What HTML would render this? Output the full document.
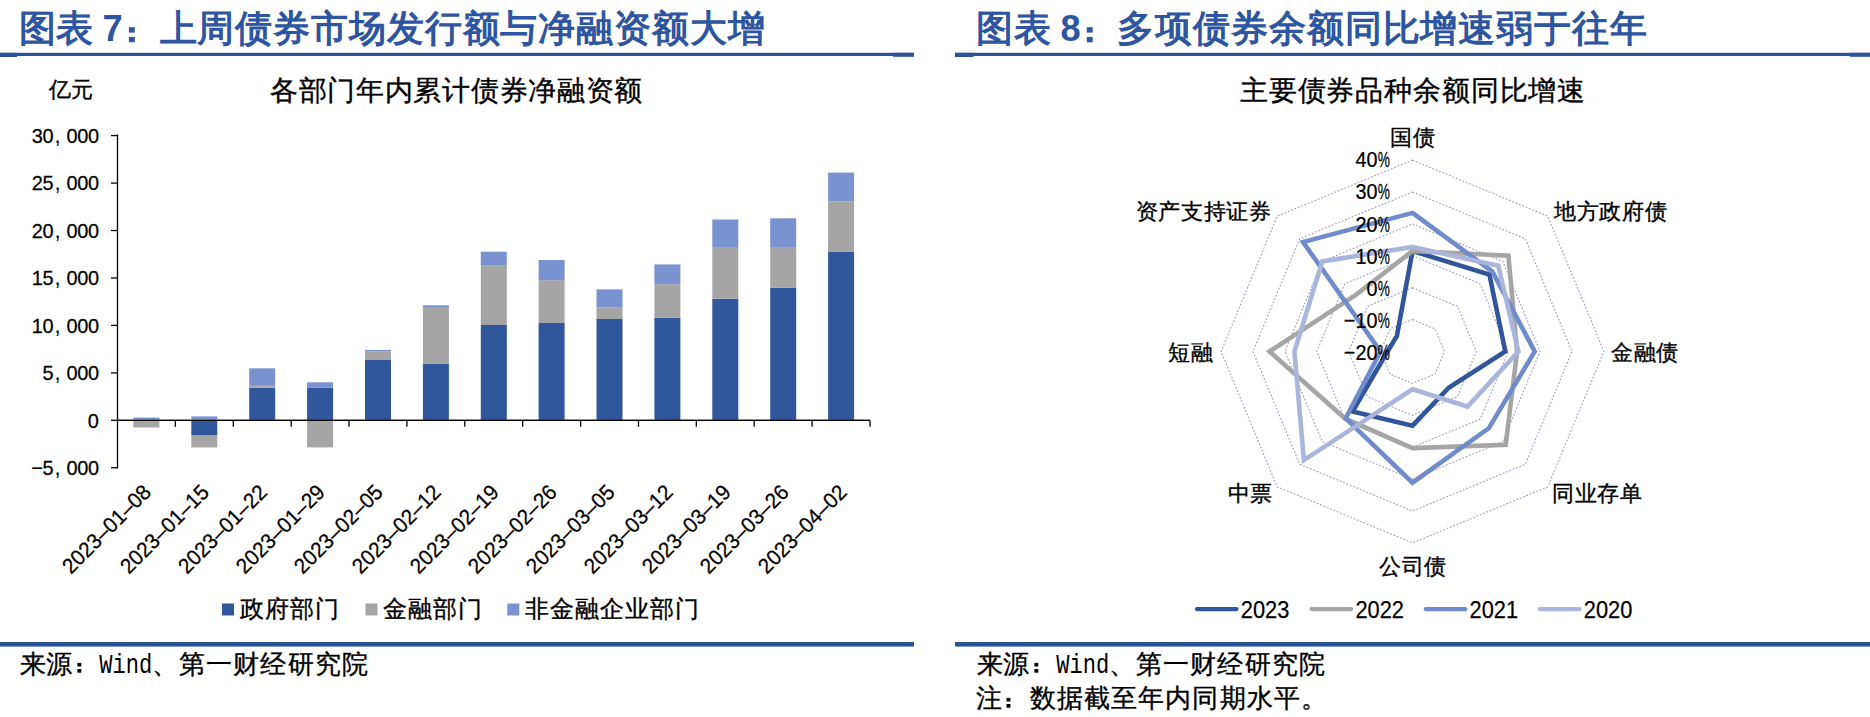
<!DOCTYPE html><html><head><meta charset="utf-8"><style>
html,body{margin:0;padding:0;background:#fff;}
body{width:1870px;height:717px;overflow:hidden;position:relative;font-family:"Liberation Sans",sans-serif;}
svg{position:absolute;left:0;top:0;}
text{font-family:"Liberation Sans",sans-serif;}
.k{stroke:#000;stroke-width:0.35px;}
.d{stroke:#000;stroke-width:0.25px;}
</style></head><body>
<svg width="1870" height="717" viewBox="0 0 1870 717">

<rect x="0" y="52.8" width="914" height="3.2" fill="#2b5397"/>
<rect x="0" y="52.8" width="17" height="4.2" fill="#2b5397"/>
<rect x="893" y="52.8" width="21" height="4.0" fill="#2b5397"/>
<rect x="955" y="52.8" width="915" height="3.2" fill="#2b5397"/>
<rect x="955" y="52.8" width="18.5" height="4.2" fill="#2b5397"/>
<rect x="1850" y="52.8" width="20" height="4.0" fill="#2b5397"/>
<rect x="0" y="642" width="914" height="4.6" fill="#2b5397"/>
<rect x="955" y="642" width="915" height="4.6" fill="#2b5397"/>
<text x="18.5" y="40.8" font-size="37" font-weight="bold" fill="#2e559f" letter-spacing="0.6">图表</text>
<text x="102.5" y="40.9" font-size="36.2" font-weight="bold" fill="#2e559f">7</text>
<rect x="128.9" y="27.2" width="5.9" height="5.4" fill="#2e559f"/>
<rect x="128.9" y="36.9" width="5.9" height="5.4" fill="#2e559f"/>
<text x="159.5" y="40.8" font-size="37" font-weight="bold" fill="#2e559f" letter-spacing="0.88">上周债券市场发行额与净融资额大增</text>
<text x="976.4" y="40.8" font-size="37" font-weight="bold" fill="#2e559f" letter-spacing="0.6">图表</text>
<text x="1060.4" y="40.9" font-size="36.2" font-weight="bold" fill="#2e559f">8</text>
<rect x="1086.8" y="27.2" width="5.9" height="5.4" fill="#2e559f"/>
<rect x="1086.8" y="36.9" width="5.9" height="5.4" fill="#2e559f"/>
<text x="1117.4" y="40.8" font-size="37" font-weight="bold" fill="#2e559f" letter-spacing="0.88">多项债券余额同比增速弱于往年</text>
<text class="k" x="269.8" y="100.3" font-size="28" fill="#000" letter-spacing="0.72">各部门年内累计债券净融资额</text>
<text class="k" x="1239.8" y="100.3" font-size="28" fill="#000" letter-spacing="0.87">主要债券品种余额同比增速</text>
<text class="k" x="48.8" y="97.3" font-size="22" fill="#000">亿元</text>
<line x1="117.5" y1="134.5" x2="117.5" y2="468.5" stroke="#000" stroke-width="1.3"/>
<line x1="111" y1="467.8" x2="117.5" y2="467.8" stroke="#000" stroke-width="1.3"/>
<text class="d" transform="translate(98.9,475.1) scale(0.95,1)" font-size="21" text-anchor="end" fill="#000" letter-spacing="-0.3">000</text>
<text x="54.4" y="475.1" font-size="22" fill="#000">,</text>
<text class="d" transform="translate(53.3,475.1) scale(0.95,1)" font-size="21" text-anchor="end" fill="#000" letter-spacing="-0.3">−5</text>
<line x1="111" y1="420.3" x2="117.5" y2="420.3" stroke="#000" stroke-width="1.3"/>
<text class="d" transform="translate(98.9,427.6) scale(0.95,1)" font-size="21" text-anchor="end" fill="#000">0</text>
<line x1="111" y1="372.9" x2="117.5" y2="372.9" stroke="#000" stroke-width="1.3"/>
<text class="d" transform="translate(98.9,380.2) scale(0.95,1)" font-size="21" text-anchor="end" fill="#000" letter-spacing="-0.3">000</text>
<text x="54.4" y="380.2" font-size="22" fill="#000">,</text>
<text class="d" transform="translate(53.3,380.2) scale(0.95,1)" font-size="21" text-anchor="end" fill="#000" letter-spacing="-0.3">5</text>
<line x1="111" y1="325.4" x2="117.5" y2="325.4" stroke="#000" stroke-width="1.3"/>
<text class="d" transform="translate(98.9,332.7) scale(0.95,1)" font-size="21" text-anchor="end" fill="#000" letter-spacing="-0.3">000</text>
<text x="54.4" y="332.7" font-size="22" fill="#000">,</text>
<text class="d" transform="translate(53.3,332.7) scale(0.95,1)" font-size="21" text-anchor="end" fill="#000" letter-spacing="-0.3">10</text>
<line x1="111" y1="278.0" x2="117.5" y2="278.0" stroke="#000" stroke-width="1.3"/>
<text class="d" transform="translate(98.9,285.3) scale(0.95,1)" font-size="21" text-anchor="end" fill="#000" letter-spacing="-0.3">000</text>
<text x="54.4" y="285.3" font-size="22" fill="#000">,</text>
<text class="d" transform="translate(53.3,285.3) scale(0.95,1)" font-size="21" text-anchor="end" fill="#000" letter-spacing="-0.3">15</text>
<line x1="111" y1="230.5" x2="117.5" y2="230.5" stroke="#000" stroke-width="1.3"/>
<text class="d" transform="translate(98.9,237.8) scale(0.95,1)" font-size="21" text-anchor="end" fill="#000" letter-spacing="-0.3">000</text>
<text x="54.4" y="237.8" font-size="22" fill="#000">,</text>
<text class="d" transform="translate(53.3,237.8) scale(0.95,1)" font-size="21" text-anchor="end" fill="#000" letter-spacing="-0.3">20</text>
<line x1="111" y1="183.1" x2="117.5" y2="183.1" stroke="#000" stroke-width="1.3"/>
<text class="d" transform="translate(98.9,190.4) scale(0.95,1)" font-size="21" text-anchor="end" fill="#000" letter-spacing="-0.3">000</text>
<text x="54.4" y="190.4" font-size="22" fill="#000">,</text>
<text class="d" transform="translate(53.3,190.4) scale(0.95,1)" font-size="21" text-anchor="end" fill="#000" letter-spacing="-0.3">25</text>
<line x1="111" y1="135.6" x2="117.5" y2="135.6" stroke="#000" stroke-width="1.3"/>
<text class="d" transform="translate(98.9,142.9) scale(0.95,1)" font-size="21" text-anchor="end" fill="#000" letter-spacing="-0.3">000</text>
<text x="54.4" y="142.9" font-size="22" fill="#000">,</text>
<text class="d" transform="translate(53.3,142.9) scale(0.95,1)" font-size="21" text-anchor="end" fill="#000" letter-spacing="-0.3">30</text>
<line x1="117.5" y1="420.3" x2="870" y2="420.3" stroke="#000" stroke-width="1.3"/>
<line x1="175.4" y1="420.3" x2="175.4" y2="426.8" stroke="#000" stroke-width="1.3"/>
<line x1="233.3" y1="420.3" x2="233.3" y2="426.8" stroke="#000" stroke-width="1.3"/>
<line x1="291.2" y1="420.3" x2="291.2" y2="426.8" stroke="#000" stroke-width="1.3"/>
<line x1="349.0" y1="420.3" x2="349.0" y2="426.8" stroke="#000" stroke-width="1.3"/>
<line x1="406.9" y1="420.3" x2="406.9" y2="426.8" stroke="#000" stroke-width="1.3"/>
<line x1="464.8" y1="420.3" x2="464.8" y2="426.8" stroke="#000" stroke-width="1.3"/>
<line x1="522.7" y1="420.3" x2="522.7" y2="426.8" stroke="#000" stroke-width="1.3"/>
<line x1="580.6" y1="420.3" x2="580.6" y2="426.8" stroke="#000" stroke-width="1.3"/>
<line x1="638.5" y1="420.3" x2="638.5" y2="426.8" stroke="#000" stroke-width="1.3"/>
<line x1="696.3" y1="420.3" x2="696.3" y2="426.8" stroke="#000" stroke-width="1.3"/>
<line x1="754.2" y1="420.3" x2="754.2" y2="426.8" stroke="#000" stroke-width="1.3"/>
<line x1="812.1" y1="420.3" x2="812.1" y2="426.8" stroke="#000" stroke-width="1.3"/>
<line x1="870.0" y1="420.3" x2="870.0" y2="426.8" stroke="#000" stroke-width="1.3"/>
<rect x="133.4" y="417.6" width="26" height="2.7" fill="#7a92d0"/>
<rect x="133.4" y="420.3" width="26" height="7.2" fill="#a5a5a5"/>
<rect x="191.3" y="416.4" width="26" height="3.9" fill="#7a92d0"/>
<rect x="191.3" y="420.3" width="26" height="14.7" fill="#30579b"/>
<rect x="191.3" y="435" width="26" height="12.4" fill="#a5a5a5"/>
<rect x="249.2" y="387.8" width="26" height="32.5" fill="#30579b"/>
<rect x="249.2" y="385" width="26" height="2.8" fill="#a5a5a5"/>
<rect x="249.2" y="368.3" width="26" height="16.7" fill="#7a92d0"/>
<rect x="307.1" y="387.8" width="26" height="32.5" fill="#30579b"/>
<rect x="307.1" y="382.3" width="26" height="5.5" fill="#7a92d0"/>
<rect x="307.1" y="420.3" width="26" height="27.1" fill="#a5a5a5"/>
<rect x="365.0" y="360" width="26" height="60.3" fill="#30579b"/>
<rect x="365.0" y="351.6" width="26" height="8.4" fill="#a5a5a5"/>
<rect x="365.0" y="349.9" width="26" height="1.7" fill="#7a92d0"/>
<rect x="422.9" y="363.6" width="26" height="56.7" fill="#30579b"/>
<rect x="422.9" y="307.8" width="26" height="55.8" fill="#a5a5a5"/>
<rect x="422.9" y="305.3" width="26" height="2.5" fill="#7a92d0"/>
<rect x="480.8" y="325" width="26" height="95.3" fill="#30579b"/>
<rect x="480.8" y="265.1" width="26" height="59.9" fill="#a5a5a5"/>
<rect x="480.8" y="251.7" width="26" height="13.4" fill="#7a92d0"/>
<rect x="538.6" y="323" width="26" height="97.3" fill="#30579b"/>
<rect x="538.6" y="280.2" width="26" height="42.8" fill="#a5a5a5"/>
<rect x="538.6" y="260" width="26" height="20.2" fill="#7a92d0"/>
<rect x="596.5" y="319" width="26" height="101.3" fill="#30579b"/>
<rect x="596.5" y="307.6" width="26" height="11.4" fill="#a5a5a5"/>
<rect x="596.5" y="289.4" width="26" height="18.2" fill="#7a92d0"/>
<rect x="654.4" y="317.7" width="26" height="102.6" fill="#30579b"/>
<rect x="654.4" y="284.2" width="26" height="33.5" fill="#a5a5a5"/>
<rect x="654.4" y="264.4" width="26" height="19.8" fill="#7a92d0"/>
<rect x="712.3" y="298.7" width="26" height="121.6" fill="#30579b"/>
<rect x="712.3" y="247.8" width="26" height="50.9" fill="#a5a5a5"/>
<rect x="712.3" y="219.5" width="26" height="28.3" fill="#7a92d0"/>
<rect x="770.2" y="287.8" width="26" height="132.5" fill="#30579b"/>
<rect x="770.2" y="247" width="26" height="40.8" fill="#a5a5a5"/>
<rect x="770.2" y="218.3" width="26" height="28.7" fill="#7a92d0"/>
<rect x="828.1" y="251.9" width="26" height="168.4" fill="#30579b"/>
<rect x="828.1" y="201.3" width="26" height="50.6" fill="#a5a5a5"/>
<rect x="828.1" y="172.6" width="26" height="28.7" fill="#7a92d0"/>
<line x1="117.5" y1="420.3" x2="870" y2="420.3" stroke="#000" stroke-width="1.3"/>
<text class="d" transform="translate(146.8,488.1) rotate(-45)" x="0" y="0" font-size="21.5" text-anchor="end" fill="#000" dy="0.36em" textLength="115" lengthAdjust="spacingAndGlyphs">2023–01–08</text>
<text class="d" transform="translate(204.8,488.1) rotate(-45)" x="0" y="0" font-size="21.5" text-anchor="end" fill="#000" dy="0.36em" textLength="115" lengthAdjust="spacingAndGlyphs">2023–01–15</text>
<text class="d" transform="translate(262.8,488.1) rotate(-45)" x="0" y="0" font-size="21.5" text-anchor="end" fill="#000" dy="0.36em" textLength="115" lengthAdjust="spacingAndGlyphs">2023–01–22</text>
<text class="d" transform="translate(320.7,488.1) rotate(-45)" x="0" y="0" font-size="21.5" text-anchor="end" fill="#000" dy="0.36em" textLength="115" lengthAdjust="spacingAndGlyphs">2023–01–29</text>
<text class="d" transform="translate(378.7,488.1) rotate(-45)" x="0" y="0" font-size="21.5" text-anchor="end" fill="#000" dy="0.36em" textLength="115" lengthAdjust="spacingAndGlyphs">2023–02–05</text>
<text class="d" transform="translate(436.7,488.1) rotate(-45)" x="0" y="0" font-size="21.5" text-anchor="end" fill="#000" dy="0.36em" textLength="115" lengthAdjust="spacingAndGlyphs">2023–02–12</text>
<text class="d" transform="translate(494.7,488.1) rotate(-45)" x="0" y="0" font-size="21.5" text-anchor="end" fill="#000" dy="0.36em" textLength="115" lengthAdjust="spacingAndGlyphs">2023–02–19</text>
<text class="d" transform="translate(552.7,488.1) rotate(-45)" x="0" y="0" font-size="21.5" text-anchor="end" fill="#000" dy="0.36em" textLength="115" lengthAdjust="spacingAndGlyphs">2023–02–26</text>
<text class="d" transform="translate(610.6,488.1) rotate(-45)" x="0" y="0" font-size="21.5" text-anchor="end" fill="#000" dy="0.36em" textLength="115" lengthAdjust="spacingAndGlyphs">2023–03–05</text>
<text class="d" transform="translate(668.6,488.1) rotate(-45)" x="0" y="0" font-size="21.5" text-anchor="end" fill="#000" dy="0.36em" textLength="115" lengthAdjust="spacingAndGlyphs">2023–03–12</text>
<text class="d" transform="translate(726.6,488.1) rotate(-45)" x="0" y="0" font-size="21.5" text-anchor="end" fill="#000" dy="0.36em" textLength="115" lengthAdjust="spacingAndGlyphs">2023–03–19</text>
<text class="d" transform="translate(784.6,488.1) rotate(-45)" x="0" y="0" font-size="21.5" text-anchor="end" fill="#000" dy="0.36em" textLength="115" lengthAdjust="spacingAndGlyphs">2023–03–26</text>
<text class="d" transform="translate(842.6,488.1) rotate(-45)" x="0" y="0" font-size="21.5" text-anchor="end" fill="#000" dy="0.36em" textLength="115" lengthAdjust="spacingAndGlyphs">2023–04–02</text>
<rect x="222" y="603.5" width="12" height="12" fill="#30579b"/>
<text class="k" x="239.5" y="617.0" font-size="23.6" fill="#000" letter-spacing="1.05">政府部门</text>
<rect x="365.5" y="603.5" width="12" height="12" fill="#a5a5a5"/>
<text class="k" x="383.0" y="617.0" font-size="23.6" fill="#000" letter-spacing="1.05">金融部门</text>
<rect x="507.3" y="603.5" width="12" height="12" fill="#7a92d0"/>
<text class="k" x="524.8" y="617.0" font-size="23.6" fill="#000" letter-spacing="1.05">非金融企业部门</text>
<text class="k" x="19.5" y="672.5" font-size="25.6" fill="#000" letter-spacing="0.4">来源</text>
<rect x="77.4" y="662.9" width="3.9" height="3.6" fill="#000"/>
<rect x="77.4" y="669.0" width="3.9" height="3.7" fill="#000"/>
<text x="99.3" y="672.5" style="font-family:Liberation Mono,monospace" font-size="28.5" fill="#000" textLength="53" lengthAdjust="spacingAndGlyphs">Wind</text>
<text class="k" x="152" y="672.5" font-size="25.6" fill="#000" letter-spacing="1.12">、第一财经研究院</text>
<text class="k" x="976.5" y="672.5" font-size="25.6" fill="#000" letter-spacing="0.4">来源</text>
<rect x="1034.4" y="662.9" width="3.9" height="3.6" fill="#000"/>
<rect x="1034.4" y="669.0" width="3.9" height="3.7" fill="#000"/>
<text x="1056.3" y="672.5" style="font-family:Liberation Mono,monospace" font-size="28.5" fill="#000" textLength="53" lengthAdjust="spacingAndGlyphs">Wind</text>
<text class="k" x="1109" y="672.5" font-size="25.6" fill="#000" letter-spacing="1.12">、第一财经研究院</text>
<text class="k" x="976.2" y="707.3" font-size="25.6" fill="#000">注</text>
<rect x="1006.5" y="697.9" width="3.9" height="3.6" fill="#000"/>
<rect x="1006.5" y="704.0" width="3.9" height="3.7" fill="#000"/>
<text class="k" x="1029.5" y="707" font-size="25.6" fill="#000" letter-spacing="1.15">数据截至年内同期水平。</text>
<polygon points="1412.5,319.6 1435.1,328.9 1444.4,351.5 1435.1,374.1 1412.5,383.4 1389.9,374.1 1380.6,351.5 1389.9,328.9" fill="none" stroke="#9c9dc0" stroke-width="1.1" stroke-dasharray="1.8,1.8"/>
<polygon points="1412.5,287.7 1457.6,306.4 1476.3,351.5 1457.6,396.6 1412.5,415.3 1367.4,396.6 1348.7,351.5 1367.4,306.4" fill="none" stroke="#9c9dc0" stroke-width="1.1" stroke-dasharray="1.8,1.8"/>
<polygon points="1412.5,255.8 1480.2,283.8 1508.2,351.5 1480.2,419.2 1412.5,447.2 1344.8,419.2 1316.8,351.5 1344.8,283.8" fill="none" stroke="#9c9dc0" stroke-width="1.1" stroke-dasharray="1.8,1.8"/>
<polygon points="1412.5,223.9 1502.7,261.3 1540.1,351.5 1502.7,441.7 1412.5,479.1 1322.3,441.7 1284.9,351.5 1322.3,261.3" fill="none" stroke="#9c9dc0" stroke-width="1.1" stroke-dasharray="1.8,1.8"/>
<polygon points="1412.5,192.0 1525.3,238.7 1572.0,351.5 1525.3,464.3 1412.5,511.0 1299.7,464.3 1253.0,351.5 1299.7,238.7" fill="none" stroke="#9c9dc0" stroke-width="1.1" stroke-dasharray="1.8,1.8"/>
<polygon points="1412.5,160.1 1547.8,216.2 1603.9,351.5 1547.8,486.8 1412.5,542.9 1277.2,486.8 1221.1,351.5 1277.2,216.2" fill="none" stroke="#9c9dc0" stroke-width="1.1" stroke-dasharray="1.8,1.8"/>
<polygon points="1412.5,251.0 1489.4,274.6 1505.3,351.5 1448.7,387.7 1412.5,425.7 1352.5,411.5 1387.5,351.5 1396.9,335.9" fill="none" stroke="#30559a" stroke-width="4.6" stroke-linejoin="miter"/>
<polygon points="1412.5,251.0 1508.4,255.6 1517.1,351.5 1505.7,444.7 1412.5,448.1 1345.3,418.7 1269.5,351.5 1355.9,294.9" fill="none" stroke="#a5a5a5" stroke-width="4.6" stroke-linejoin="miter"/>
<polygon points="1412.5,212.9 1492.4,271.6 1534.7,351.5 1489.0,428.0 1412.5,482.7 1345.7,418.3 1380.5,351.5 1303.0,242.0" fill="none" stroke="#708bcb" stroke-width="4.6" stroke-linejoin="miter"/>
<polygon points="1412.5,246.9 1498.3,265.7 1518.4,351.5 1467.5,406.5 1412.5,389.3 1303.9,460.1 1294.4,351.5 1322.4,261.4" fill="none" stroke="#aab5dc" stroke-width="4.6" stroke-linejoin="miter"/>
<text class="d" transform="translate(1377.4,359.7) scale(0.9,1)" font-size="22" text-anchor="end" fill="#000">−20</text>
<text class="d" transform="translate(1389.8,359.7) scale(0.62,1)" font-size="22" text-anchor="end" fill="#000">%</text>
<text class="d" transform="translate(1377.4,327.6) scale(0.9,1)" font-size="22" text-anchor="end" fill="#000">−10</text>
<text class="d" transform="translate(1389.8,327.6) scale(0.62,1)" font-size="22" text-anchor="end" fill="#000">%</text>
<text class="d" transform="translate(1377.4,295.6) scale(0.9,1)" font-size="22" text-anchor="end" fill="#000">0</text>
<text class="d" transform="translate(1389.8,295.6) scale(0.62,1)" font-size="22" text-anchor="end" fill="#000">%</text>
<text class="d" transform="translate(1377.4,263.6) scale(0.9,1)" font-size="22" text-anchor="end" fill="#000">10</text>
<text class="d" transform="translate(1389.8,263.6) scale(0.62,1)" font-size="22" text-anchor="end" fill="#000">%</text>
<text class="d" transform="translate(1377.4,231.5) scale(0.9,1)" font-size="22" text-anchor="end" fill="#000">20</text>
<text class="d" transform="translate(1389.8,231.5) scale(0.62,1)" font-size="22" text-anchor="end" fill="#000">%</text>
<text class="d" transform="translate(1377.4,199.4) scale(0.9,1)" font-size="22" text-anchor="end" fill="#000">30</text>
<text class="d" transform="translate(1389.8,199.4) scale(0.62,1)" font-size="22" text-anchor="end" fill="#000">%</text>
<text class="d" transform="translate(1377.4,167.4) scale(0.9,1)" font-size="22" text-anchor="end" fill="#000">40</text>
<text class="d" transform="translate(1389.8,167.4) scale(0.62,1)" font-size="22" text-anchor="end" fill="#000">%</text>
<text class="k" x="1390" y="145" font-size="22" fill="#000" letter-spacing="0.7">国债</text>
<text class="k" x="1554" y="218.5" font-size="22" fill="#000" letter-spacing="0.7">地方政府债</text>
<text class="k" x="1611" y="359.7" font-size="22" fill="#000" letter-spacing="0.7">金融债</text>
<text class="k" x="1552" y="501" font-size="22" fill="#000" letter-spacing="0.7">同业存单</text>
<text class="k" x="1379" y="573.5" font-size="22" fill="#000" letter-spacing="0.7">公司债</text>
<text class="k" x="1227.5" y="500.5" font-size="22" fill="#000" letter-spacing="0.7">中票</text>
<text class="k" x="1168" y="360" font-size="22" fill="#000" letter-spacing="0.7">短融</text>
<text class="k" x="1135.5" y="218.5" font-size="22" fill="#000" letter-spacing="0.7">资产支持证券</text>
<line x1="1197" y1="609.1" x2="1236.5" y2="609.1" stroke="#30559a" stroke-width="4.3" stroke-linecap="round"/>
<text class="d" x="1240.8" y="617.6" font-size="23.5" fill="#000" textLength="48.5" lengthAdjust="spacingAndGlyphs">2023</text>
<line x1="1311.6" y1="609.1" x2="1351.1" y2="609.1" stroke="#a5a5a5" stroke-width="4.3" stroke-linecap="round"/>
<text class="d" x="1355.3999999999999" y="617.6" font-size="23.5" fill="#000" textLength="48.5" lengthAdjust="spacingAndGlyphs">2022</text>
<line x1="1425.8" y1="609.1" x2="1465.3" y2="609.1" stroke="#708bcb" stroke-width="4.3" stroke-linecap="round"/>
<text class="d" x="1469.6" y="617.6" font-size="23.5" fill="#000" textLength="48.5" lengthAdjust="spacingAndGlyphs">2021</text>
<line x1="1540" y1="609.1" x2="1579.5" y2="609.1" stroke="#aab5dc" stroke-width="4.3" stroke-linecap="round"/>
<text class="d" x="1583.8" y="617.6" font-size="23.5" fill="#000" textLength="48.5" lengthAdjust="spacingAndGlyphs">2020</text>
</svg></body></html>
